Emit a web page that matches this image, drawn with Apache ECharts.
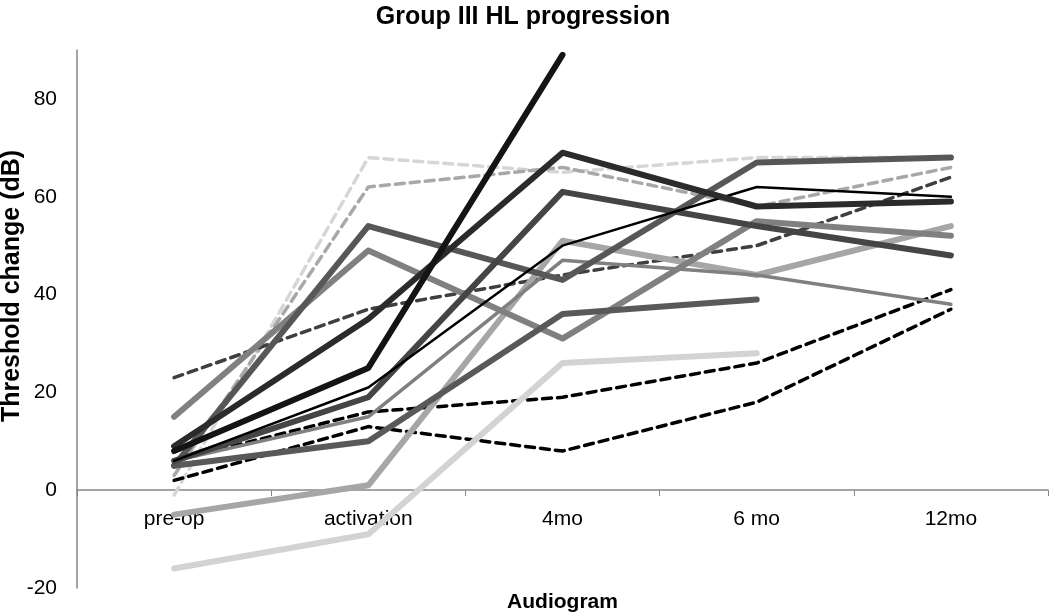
<!DOCTYPE html>
<html>
<head>
<meta charset="utf-8">
<script src="https://cdn.jsdelivr.net/npm/echarts@6/dist/echarts.min.js"></script>
<style>html,body{margin:0;padding:0;background:#fff}#c{width:1050px;height:616px}</style>
</head>
<body>
<div id="c"></div>
<script>
const categories = ['pre-op', 'activation', '4mo', '6 mo', '12mo'];
const yTicks = [-20, 0, 20, 40, 60, 80];

// series values (dB) per category
const s1  = [8, 25, 89, null, null];
const s2  = [9, 35, 69, 58, 59];
const s3  = [5, 54, 43, 67, 68];
const s4  = [6, 19, 61, 54, 48];
const s5  = [15, 49, 31, 55, 52];
const s6  = [-5, 1, 51, 44, 54];
const s7  = [6, 15, 47, 44, 38];
const s8  = [6, 21, 50, 62, 60];
const s9  = [5, 10, 36, 39, null];
const s10 = [-16, -9, 26, 28, null];
const s11 = [2, 13, 8, 18, 37];
const s12 = [6, 16, 19, 26, 41];
const s13 = [23, 37, 44, 50, 64];
const s14 = [-1, 68, 65, 68, 68];
const s15 = [3, 62, 66, 58, 66];

const styles = [
  {d: s14, c: '#d6d6d6', w: 3.5, t: [9, 6]},
  {d: s15, c: '#a8a8a8', w: 3.5, t: [9, 6]},
  {d: s13, c: '#3f3f3f', w: 3.5, t: [9, 6]},
  {d: s11, c: '#000000', w: 3.5, t: [9, 6]},
  {d: s12, c: '#000000', w: 3.5, t: [9, 6]},
  {d: s10, c: '#d3d3d3', w: 6, t: 'solid'},
  {d: s6,  c: '#a6a6a6', w: 6, t: 'solid'},
  {d: s7,  c: '#808080', w: 3.5, t: 'solid'},
  {d: s5,  c: '#808080', w: 6, t: 'solid'},
  {d: s9,  c: '#595959', w: 6, t: 'solid'},
  {d: s3,  c: '#575757', w: 6, t: 'solid'},
  {d: s4,  c: '#454545', w: 6, t: 'solid'},
  {d: s8,  c: '#000000', w: 2.5, t: 'solid'},
  {d: s2,  c: '#2b2b2b', w: 6, t: 'solid'},
  {d: s1,  c: '#141414', w: 6, t: 'solid'}
];

const chart = echarts.init(document.getElementById('c'), null, {renderer: 'canvas'});
const font = 'Liberation Sans, Arial, sans-serif';
chart.setOption({
  animation: false,
  backgroundColor: '#fff',
  title: {
    text: 'Group III HL progression',
    left: 518, top: 0, textAlign: 'center',
    textStyle: {fontFamily: font, fontSize: 25, fontWeight: 'bold', color: '#000'}
  },
  grid: {left: 77, right: 2, top: 50, bottom: 28, containLabel: false, outerBoundsMode: 'none'},
  xAxis: {
    type: 'category', data: categories, boundaryGap: true,
    axisLine: {onZero: true, lineStyle: {color: '#868686', width: 1.5}},
    axisTick: {show: true, length: 6, lineStyle: {color: '#868686'}},
    axisLabel: {margin: -79, fontFamily: font, fontSize: 21, color: '#000'},
    name: 'Audiogram', nameLocation: 'middle', nameGap: 4,
    nameTextStyle: {fontFamily: font, fontSize: 21, fontWeight: 'bold', color: '#000'},
    splitLine: {show: false}
  },
  yAxis: {
    type: 'value', min: yTicks[0], max: 90, interval: 20,
    axisLine: {show: true, lineStyle: {color: '#868686', width: 1.5}},
    axisTick: {show: false},
    axisLabel: {margin: 20, fontFamily: font, fontSize: 21, color: '#000', showMaxLabel: false},
    splitLine: {show: false}
  },
  graphic: [{
    type: 'text', x: 12, y: 286, rotation: Math.PI / 2,
    style: {text: 'Threshold change (dB)', fontFamily: font, fontSize: 25, fontWeight: 'bold',
            fill: '#000', align: 'center', verticalAlign: 'middle'}
  }],
  series: styles.map((s, i) => ({
    type: 'line', data: s.d, symbol: 'none', showSymbol: false, connectNulls: false,
    lineStyle: {color: s.c, width: s.w, type: s.t, cap: 'round', join: 'round'},
    z: 2 + i * 0.01
  }))
});
</script>
</body>
</html>
